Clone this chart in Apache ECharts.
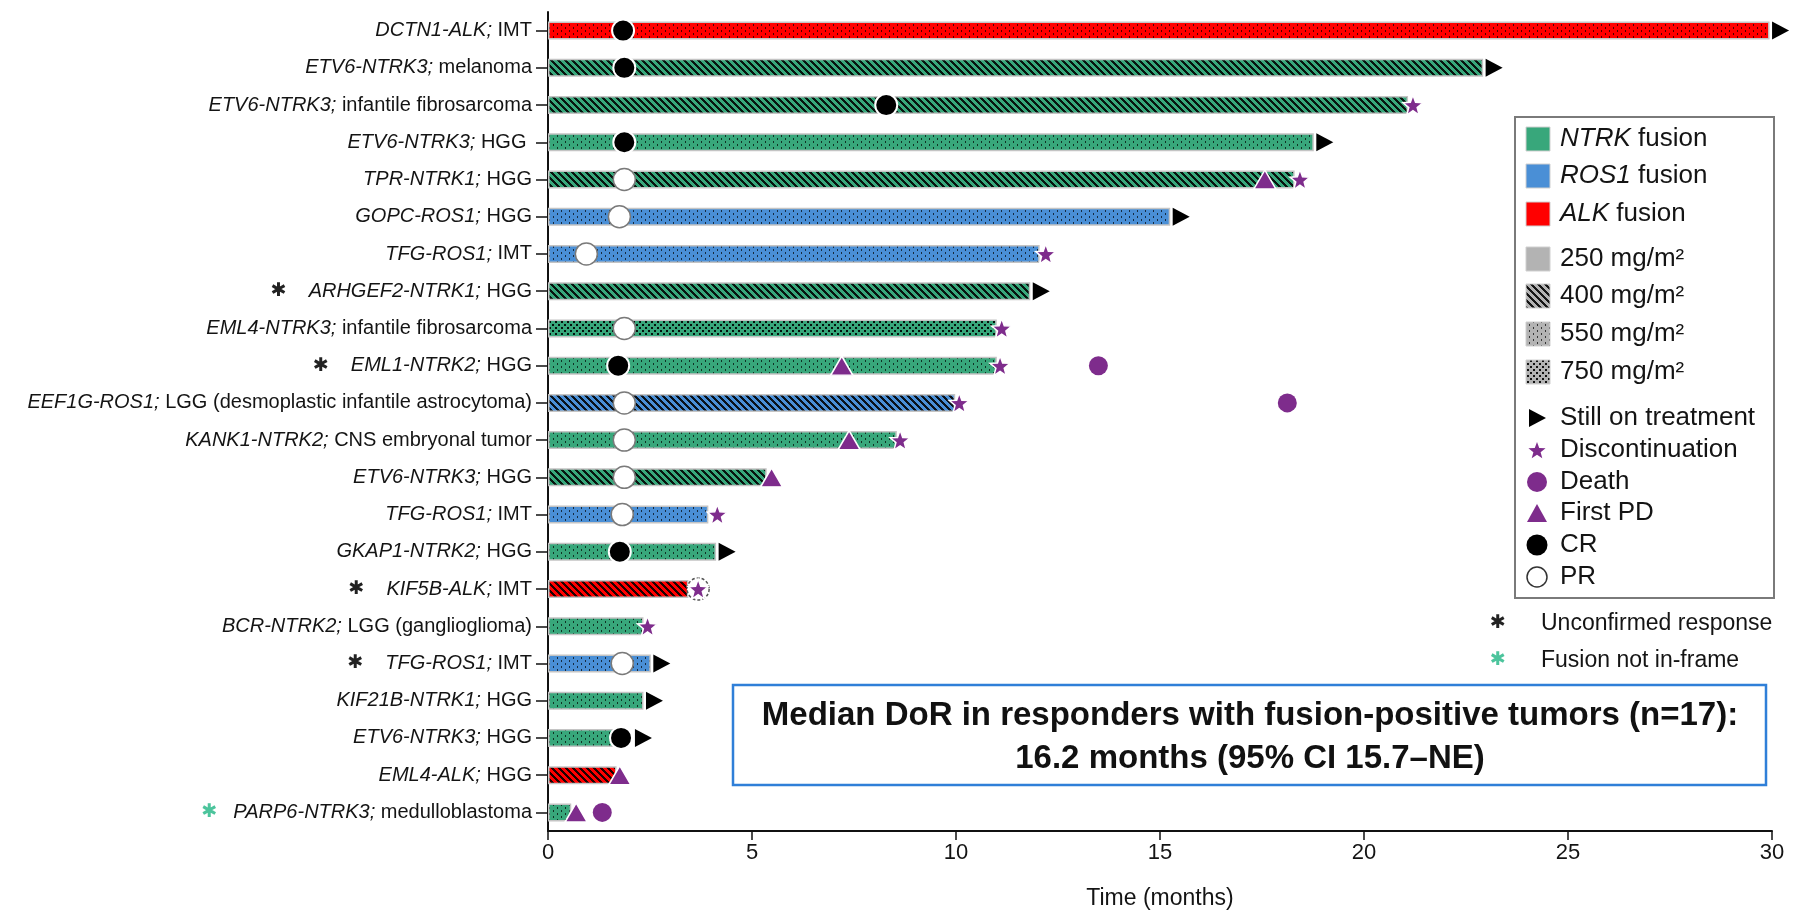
<!DOCTYPE html>
<html>
<head>
<meta charset="utf-8">
<script src="https://cdn.jsdelivr.net/npm/echarts@6.0.0/dist/echarts.min.js"></script>
<style>
  html, body { margin: 0; padding: 0; background: #ffffff; }
  #chart { width: 1796px; height: 915px; }
</style>
</head>
<body>
<div id="chart"></div>
<script>
// ---- Patients (top to bottom) ----
const genes = ['DCTN1-ALK;', 'ETV6-NTRK3;', 'ETV6-NTRK3;', 'ETV6-NTRK3;', 'TPR-NTRK1;', 'GOPC-ROS1;',
  'TFG-ROS1;', 'ARHGEF2-NTRK1;', 'EML4-NTRK3;', 'EML1-NTRK2;', 'EEF1G-ROS1;', 'KANK1-NTRK2;',
  'ETV6-NTRK3;', 'TFG-ROS1;', 'GKAP1-NTRK2;', 'KIF5B-ALK;', 'BCR-NTRK2;', 'TFG-ROS1;',
  'KIF21B-NTRK1;', 'ETV6-NTRK3;', 'EML4-ALK;', 'PARP6-NTRK3;'];
const tumors = ['IMT', 'melanoma', 'infantile fibrosarcoma', 'HGG ', 'HGG', 'HGG',
  'IMT', 'HGG', 'infantile fibrosarcoma', 'HGG', 'LGG (desmoplastic infantile astrocytoma)', 'CNS embryonal tumor',
  'HGG', 'IMT', 'HGG', 'IMT', 'LGG (ganglioglioma)', 'IMT',
  'HGG', 'HGG', 'HGG', 'medulloblastoma'];
// u = unconfirmed response, f = fusion not in-frame
const flags = ['', '', '', '', '', '', '', 'u', '', 'u', '', '', '', '', '', 'u', '', 'u', '', '', '', 'f'];
const fusions = ['ALK', 'NTRK', 'NTRK', 'NTRK', 'NTRK', 'ROS1', 'ROS1', 'NTRK', 'NTRK', 'NTRK', 'ROS1', 'NTRK',
  'NTRK', 'ROS1', 'NTRK', 'ALK', 'NTRK', 'ROS1', 'NTRK', 'NTRK', 'ALK', 'NTRK'];
const doses = [550, 400, 400, 550, 400, 550, 550, 400, 750, 550, 400, 550, 400, 550, 550, 400, 550, 550, 550, 550, 400, 550];

// time on treatment (months)
const durations = [29.94, 22.92, 21.08, 18.77, 18.3, 15.25, 12.05, 11.82, 11.0, 11.0, 9.98, 8.55,
  5.36, 3.93, 4.12, 3.44, 2.34, 2.52, 2.34, 1.6, 1.68, 0.57];

// events: [month, row]
const stillOnTreatment = [[29.94, 0], [22.92, 1], [18.77, 3], [15.25, 5], [11.82, 7], [4.12, 14], [2.52, 17], [2.34, 18], [2.07, 19]];
const discontinuation = [[21.2, 2], [18.43, 4], [12.2, 6], [11.12, 8], [11.08, 9], [10.08, 10], [8.63, 11], [4.15, 13], [3.68, 15], [2.44, 16]];
const deaths = [[13.49, 9], [18.12, 10], [1.33, 21]];
const firstPD = [[17.57, 4], [7.2, 9], [7.38, 11], [5.48, 12], [1.76, 20], [0.69, 21]];
const completeResp = [[1.84, 0], [1.87, 1], [8.29, 2], [1.87, 3], [1.72, 9], [1.76, 14], [1.79, 19]];
const partialResp = [[1.87, 4], [1.75, 5], [0.94, 6], [1.87, 8], [1.87, 10], [1.87, 11], [1.87, 12], [1.82, 13], [1.82, 17]];
const partialRespUnclear = [[3.68, 15]];

const xTicks = { min: 0, max: 30, interval: 5 };

// ---- styling ----
const FONT = 'Arial, "Liberation Sans", Helvetica, sans-serif';
const COLORS = { NTRK: '#38a77b', ROS1: '#4a8fd6', ALK: '#ff0000', dose: '#b3b3b3' };
const PURPLE = '#7e2c8c';
const ASTERISK_GREEN = '#4cc49c';

function makePattern(base, dose) {
  const w = dose === 550 ? 8 : (dose === 400 ? 7 : 6), h = dose === 400 ? 7 : 6;
  const c = document.createElement('canvas');
  c.width = w; c.height = h;
  const ctx = c.getContext('2d');
  ctx.fillStyle = base;
  ctx.fillRect(0, 0, w, h);
  if (dose === 400) {
    ctx.fillStyle = 'rgba(0,0,0,0.88)';
    for (let y = 0; y < h; y++) for (let x = 0; x < w; x++) {
      if ((((x - y) % 7) + 7) % 7 < 3) ctx.fillRect(x, y, 1, 1);
    }
  } else if (dose === 550) {
    ctx.fillStyle = 'rgba(0,0,0,0.7)';
    ctx.fillRect(1, 0, 1, 2);
    ctx.fillRect(5, 3, 1, 2);
  } else if (dose === 750) {
    ctx.fillStyle = 'rgba(0,0,0,0.9)';
    ctx.fillRect(0, 0, 2, 2);
    ctx.fillRect(3, 3, 2, 2);
  }
  return { image: c, repeat: 'repeat' };
}

function starPoints(cx, cy, R, r) {
  const pts = [];
  for (let k = 0; k < 10; k++) {
    const a = -Math.PI / 2 + k * Math.PI / 5;
    const rad = k % 2 === 0 ? R : r;
    pts.push([cx + rad * Math.cos(a), cy + rad * Math.sin(a)]);
  }
  return pts;
}
const STAR_PATH = 'path://M' + starPoints(10, 10, 10, 4.2).map(p => p[0].toFixed(2) + ',' + p[1].toFixed(2)).join('L') + 'Z';
const ARROW_PATH = 'path://M0,0L10,5.3L0,10.6Z';

const chart = echarts.init(document.getElementById('chart'), null, { renderer: 'canvas' });

const labelRich = {
  g: { fontFamily: FONT, fontStyle: 'italic', fontSize: 20, color: '#141414' },
  t: { fontFamily: FONT, fontSize: 20, color: '#141414' },
  u: { fontFamily: '"DejaVu Sans", sans-serif', fontSize: 19, color: '#222', padding: [0, 22, 0, 0] },
  f: { fontFamily: '"DejaVu Sans", sans-serif', fontSize: 19, color: ASTERISK_GREEN, padding: [0, 16, 0, 0] }
};

const markerBase = { type: 'scatter', clip: false, silent: true, animation: false };

const option = {
  animation: false,
  backgroundColor: '#ffffff',
  grid: { left: 548, right: 24, top: 12, bottom: 82, containLabel: false },
  xAxis: {
    type: 'value', min: xTicks.min, max: xTicks.max, interval: xTicks.interval,
    axisLine: { show: true, lineStyle: { color: '#111', width: 2 } },
    axisTick: { show: true, length: 9, lineStyle: { color: '#111', width: 1.5 } },
    axisLabel: { fontFamily: FONT, fontSize: 22, color: '#141414', margin: 11 },
    splitLine: { show: false },
    name: 'Time (months)', nameLocation: 'middle', nameGap: 56,
    nameTextStyle: { fontFamily: FONT, fontSize: 23, color: '#141414' }
  },
  yAxis: {
    type: 'category', inverse: true,
    data: genes.map((g, i) => g + ' ' + tumors[i]),
    axisLine: { show: true, lineStyle: { color: '#111', width: 2 } },
    axisTick: { show: true, alignWithLabel: true, length: 12, lineStyle: { color: '#111', width: 1.5 } },
    axisLabel: {
      margin: 16,
      formatter: (v, i) => {
        const pre = flags[i] === 'u' ? '{u|✱}' : flags[i] === 'f' ? '{f|✱}' : '';
        return pre + '{g|' + genes[i] + '}{t| ' + tumors[i] + '}';
      },
      rich: labelRich
    },
    splitLine: { show: false }
  },
  series: [
    {
      type: 'bar', barWidth: 18, silent: true, z: 2,
      data: durations.map((d, i) => ({
        value: d,
        itemStyle: { color: makePattern(COLORS[fusions[i]], doses[i]), borderColor: '#c4c4c4', borderWidth: 1.5 }
      }))
    },
    Object.assign({}, markerBase, {
      name: 'Still on treatment', data: stillOnTreatment, symbol: ARROW_PATH, symbolSize: [17, 18],
      symbolOffset: [11, 0], itemStyle: { color: '#000', opacity: 1 }, z: 4
    }),
    Object.assign({}, markerBase, {
      name: 'Death', data: deaths, symbol: 'circle', symbolSize: 19,
      itemStyle: { color: PURPLE, opacity: 1 }, z: 4
    }),
    Object.assign({}, markerBase, {
      name: 'CR', data: completeResp, symbol: 'circle', symbolSize: 22,
      itemStyle: { color: '#000', borderColor: '#fff', borderWidth: 2, opacity: 1 }, z: 5
    }),
    Object.assign({}, markerBase, {
      name: 'PR', data: partialResp, symbol: 'circle', symbolSize: 22,
      itemStyle: { color: '#fff', borderColor: '#7a7a7a', borderWidth: 1.5, opacity: 1 }, z: 5
    }),
    Object.assign({}, markerBase, {
      name: 'PR unclear', data: partialRespUnclear, symbol: 'circle', symbolSize: 22,
      itemStyle: { color: '#fff', borderColor: '#555', borderWidth: 1.5, borderType: [3, 2], opacity: 1 }, z: 5
    }),
    Object.assign({}, markerBase, {
      name: 'First PD', data: firstPD, symbol: 'triangle', symbolSize: [22, 19],
      itemStyle: { color: PURPLE, borderColor: '#fff', borderWidth: 1.5, opacity: 1 }, z: 6
    }),
    Object.assign({}, markerBase, {
      name: 'Discontinuation', data: discontinuation, symbol: STAR_PATH, symbolSize: 20,
      itemStyle: { color: PURPLE, borderColor: '#fff', borderWidth: 1.5, opacity: 1 }, z: 7
    })
  ],
  graphic: []
};

// ---- legend panel ----
const g = [];
const LX = 1515, LY = 117, LW = 259, LH = 481;
g.push({ type: 'rect', shape: { x: LX, y: LY, width: LW, height: LH }, style: { fill: '#fff', stroke: '#7a7a7a', lineWidth: 2 }, z: 10 });
const legTextStyle = (y, rich, text) => ({
  type: 'text', x: 1560, y: y, z: 11,
  style: { text: text, rich: rich, fontFamily: FONT, fontSize: 26, fill: '#141414', verticalAlign: 'middle', align: 'left' }
});
const legRich = {
  i: { fontFamily: FONT, fontStyle: 'italic', fontSize: 26, fill: '#141414' },
  n: { fontFamily: FONT, fontSize: 26, fill: '#141414' }
};
const swatches = [
  { y: 139, fill: COLORS.NTRK, text: '{i|NTRK}{n| fusion}' },
  { y: 176, fill: COLORS.ROS1, text: '{i|ROS1}{n| fusion}' },
  { y: 214, fill: COLORS.ALK, text: '{i|ALK}{n| fusion}' },
  { y: 259, fill: COLORS.dose, text: '{n|250 mg/m²}' },
  { y: 296, fill: makePattern(COLORS.dose, 400), text: '{n|400 mg/m²}' },
  { y: 334, fill: makePattern(COLORS.dose, 550), text: '{n|550 mg/m²}' },
  { y: 372, fill: makePattern(COLORS.dose, 750), text: '{n|750 mg/m²}' }
];
swatches.forEach(s => {
  g.push({ type: 'rect', shape: { x: 1526, y: s.y - 12, width: 24, height: 24 }, style: { fill: s.fill, stroke: '#d0d0d0', lineWidth: 1 }, z: 11 });
  g.push(legTextStyle(s.y, legRich, s.text));
});
// marker keys
const MX = 1537;
g.push({ type: 'polygon', shape: { points: [[MX - 8, 409], [MX + 9, 418], [MX - 8, 427]] }, style: { fill: '#000' }, z: 11 });
g.push(legTextStyle(418, legRich, '{n|Still on treatment}'));
g.push({ type: 'polygon', shape: { points: starPoints(MX, 451, 9, 3.8) }, style: { fill: PURPLE }, z: 11 });
g.push(legTextStyle(450, legRich, '{n|Discontinuation}'));
g.push({ type: 'circle', shape: { cx: MX, cy: 482, r: 10 }, style: { fill: PURPLE }, z: 11 });
g.push(legTextStyle(482, legRich, '{n|Death}'));
g.push({ type: 'polygon', shape: { points: [[MX - 10, 522], [MX, 504], [MX + 10, 522]] }, style: { fill: PURPLE }, z: 11 });
g.push(legTextStyle(513, legRich, '{n|First PD}'));
g.push({ type: 'circle', shape: { cx: MX, cy: 545, r: 10.5 }, style: { fill: '#000' }, z: 11 });
g.push(legTextStyle(545, legRich, '{n|CR}'));
g.push({ type: 'circle', shape: { cx: MX, cy: 577, r: 10 }, style: { fill: '#fff', stroke: '#333', lineWidth: 1.5 }, z: 11 });
g.push(legTextStyle(577, legRich, '{n|PR}'));

// footnotes under the legend
g.push({ type: 'text', x: 1498, y: 623, z: 11, style: { text: '✱', fontFamily: '"DejaVu Sans", sans-serif', fontSize: 19, fill: '#222', align: 'center', verticalAlign: 'middle' } });
g.push({ type: 'text', x: 1541, y: 624, z: 11, style: { text: 'Unconfirmed response', fontFamily: FONT, fontSize: 23, fill: '#141414', verticalAlign: 'middle' } });
g.push({ type: 'text', x: 1498, y: 660, z: 11, style: { text: '✱', fontFamily: '"DejaVu Sans", sans-serif', fontSize: 19, fill: ASTERISK_GREEN, align: 'center', verticalAlign: 'middle' } });
g.push({ type: 'text', x: 1541, y: 661, z: 11, style: { text: 'Fusion not in-frame', fontFamily: FONT, fontSize: 23, fill: '#141414', verticalAlign: 'middle' } });

// median duration of response box
g.push({ type: 'rect', shape: { x: 733, y: 685, width: 1033, height: 100 }, style: { fill: '#fff', stroke: '#2f7fd8', lineWidth: 2.5 }, z: 10 });
g.push({ type: 'text', x: 1250, y: 716, z: 11, style: { text: 'Median DoR in responders with fusion-positive tumors (n=17):', fontFamily: FONT, fontWeight: 'bold', fontSize: 33, fill: '#111', align: 'center', verticalAlign: 'middle' } });
g.push({ type: 'text', x: 1250, y: 759, z: 11, style: { text: '16.2 months (95% CI 15.7–NE)', fontFamily: FONT, fontWeight: 'bold', fontSize: 33, fill: '#111', align: 'center', verticalAlign: 'middle' } });

option.graphic = g;
chart.setOption(option);
</script>
</body>
</html>
